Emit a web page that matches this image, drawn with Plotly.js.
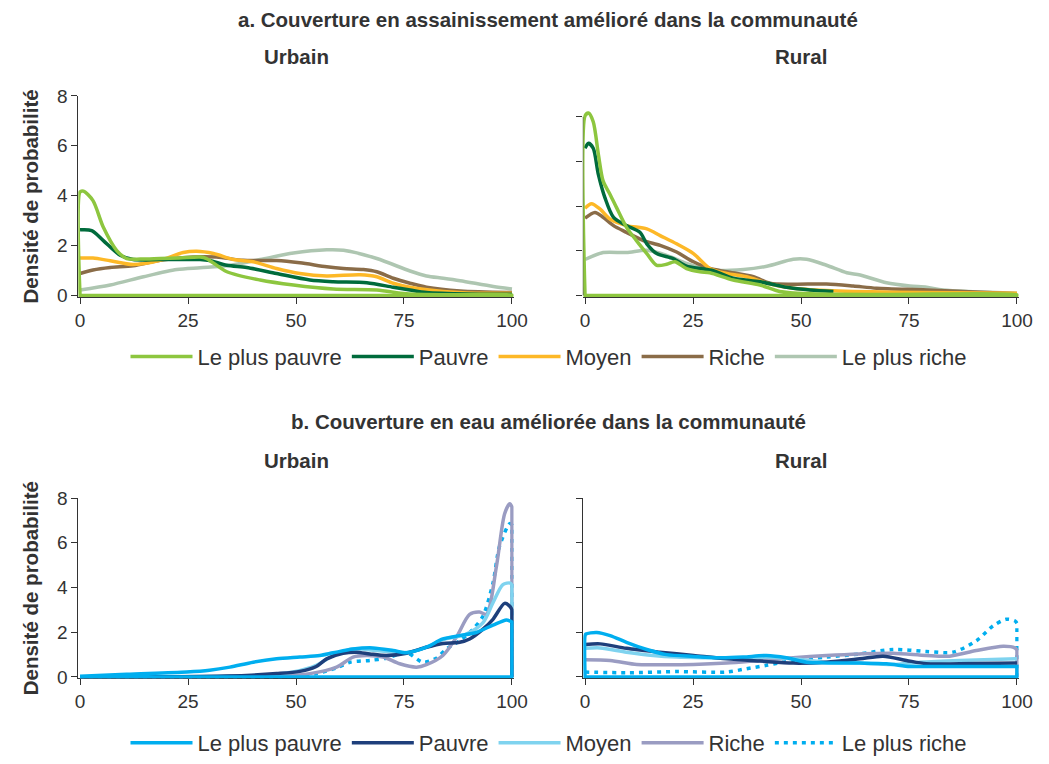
<!DOCTYPE html>
<html>
<head>
<meta charset="utf-8">
<script src="https://cdn.plot.ly/plotly-3.0.1.min.js"></script>
<style>html,body{margin:0;padding:0;background:#fff}#chart{width:1049px;height:764px}</style>
</head>
<body>
<div id="chart"></div>
<script>
// ---------- labels ----------
const groupNames = ["Le plus pauvre", "Pauvre", "Moyen", "Riche", "Le plus riche"];
const panelTitleA = "a. Couverture en assainissement amélioré dans la communauté";
const panelTitleB = "b. Couverture en eau améliorée dans la communauté";
const subUrban = "Urbain";
const subRural = "Rural";
const yTitle = "Densité de probabilité";
const xTickVals = [0, 25, 50, 75, 100];
const yTickVals = [0, 2, 4, 6, 8];

// ---------- a. sanitation, urban ----------
const sanUrb_pp_x = [0,0,0,0.8,3,5.4,8.5,10.8,14,18.5,23,27.8,29.3,34,41.7,49.4,58.6,68.7,75.6,85,100,100,100,0];
const sanUrb_pp_y = [0,0,4.15,4.18,3.8,2.73,1.8,1.48,1.46,1.48,1.5,1.54,1.48,0.95,0.62,0.42,0.26,0.22,0.07,0.03,0.02,0,0,0];
const sanUrb_p_x  = [0,2.7,5.4,9.3,12.3,18.5,27.8,30,34,38.6,45.5,53.2,58.6,66.4,72.5,76.4,80.2,90,100];
const sanUrb_p_y  = [2.63,2.6,2.2,1.61,1.44,1.44,1.44,1.40,1.21,1.12,0.88,0.62,0.55,0.51,0.33,0.22,0.12,0.06,0.05];
const sanUrb_m_x  = [0,3,7,12.3,18.5,23.9,27,30.9,35.5,40.1,45.5,50.9,57.1,64.8,68.7,72.5,76.4,84.1,91.8,100];
const sanUrb_m_y  = [1.5,1.5,1.39,1.24,1.41,1.72,1.77,1.68,1.44,1.35,1.08,0.88,0.78,0.83,0.75,0.49,0.33,0.16,0.09,0.09];
const sanUrb_r_x  = [0,3,7,12.3,18.5,26.2,31.6,37.8,45.5,50.9,57.1,61,65.6,68.7,72.5,76.4,80.2,88,100];
const sanUrb_r_y  = [0.88,1.02,1.12,1.19,1.41,1.54,1.54,1.41,1.4,1.31,1.15,1.08,1.04,0.95,0.69,0.49,0.33,0.18,0.12];
const sanUrb_lr_x = [0,7,14.7,22.4,27.8,34,41.7,49.4,57.1,61,68.7,76.4,80.2,84.1,88,95.7,100];
const sanUrb_lr_y = [0.22,0.42,0.75,1.04,1.11,1.19,1.44,1.7,1.83,1.81,1.48,0.98,0.78,0.69,0.59,0.36,0.26];

// ---------- a. sanitation, rural ----------
const sanRur_pp_x = [0,0,0,0.8,1.9,3.1,4.2,5.8,7.3,9.6,11.9,14.3,16.6,18.9,20.8,23.5,26.6,28.9,34.3,40.5,45.1,52.1,70,100,100,100,0];
const sanRur_pp_y = [0,0,7.2,7.31,6.96,5.64,4.58,4.05,3.52,2.73,2.2,1.68,1.21,1.25,1.35,1.08,0.95,0.91,0.62,0.42,0.16,0.07,0.04,0.03,0,0,0];
const sanRur_p_x  = [0,0.8,1.9,3.1,4.6,6.6,9.6,12.7,14.3,16.6,20.4,23.5,26.6,29.7,34.3,40.5,46.7,52.1,57.5];
const sanRur_p_y  = [5.9,6.1,5.9,4.84,3.92,3.13,2.8,2.53,2.07,1.68,1.48,1.17,1.08,0.99,0.69,0.55,0.33,0.22,0.16];
const sanRur_m_x  = [0,1.5,3.5,5.8,9.6,14.3,17.4,21.2,25.1,28.9,32.8,37.4,42.1,48.2,55.9,71.4,100];
const sanRur_m_y  = [3.5,3.68,3.46,3.06,2.8,2.67,2.4,2.07,1.68,1.08,0.88,0.75,0.49,0.29,0.2,0.13,0.09];
const sanRur_r_x  = [0,2.3,4.2,6.6,9.6,13.5,17.4,21.2,25.1,28.9,32.8,39,42.8,48.2,55.9,62.1,67.5,79.1,100];
const sanRur_r_y  = [3.1,3.33,3.13,2.8,2.53,2.2,2.01,1.74,1.35,1.08,0.95,0.75,0.49,0.45,0.46,0.38,0.29,0.22,0.07];
const sanRur_lr_x = [0,4.2,9.6,14.3,18.9,23.5,28.9,36.7,42.1,48.2,51.3,55.9,60.6,63.7,69.8,75.2,79.1,82.9,100];
const sanRur_lr_y = [1.44,1.72,1.72,1.81,1.61,1.28,1.02,1.04,1.17,1.45,1.45,1.21,0.91,0.82,0.51,0.38,0.33,0.22,0.09];

// ---------- b. water, urban ----------
const watUrb_pp_x = [0,10.8,24.7,30,34.7,40.1,45.5,50.9,55.5,58.6,63.2,67.8,72.5,75.6,80.2,84,87.9,91.7,95.6,98.7,99.6,100,100,100,100,0];
const watUrb_pp_y = [0.03,0.12,0.22,0.3,0.44,0.66,0.81,0.89,0.96,1.08,1.25,1.3,1.18,1.08,1.33,1.7,1.85,1.99,2.32,2.55,2.5,2.45,2.45,0,0,0];
const watUrb_p_x  = [0,33.9,45.5,50.9,54.7,57.1,60.9,64,67.1,70.9,75.6,80.2,84,87.9,90.2,93.3,95.6,98.3,99.6,100,100,100,100];
const watUrb_p_y  = [0,0.04,0.15,0.25,0.47,0.81,1.06,1.11,1.03,0.96,1.06,1.33,1.5,1.55,1.7,2.14,2.58,3.29,3.14,3.0,3.0,0,0];
const watUrb_m_x  = [0,41.6,49.3,54.7,58.6,63.2,68.6,75.6,80.2,84,89.4,93.3,95.6,97.9,99.6,100,100,100,100];
const watUrb_m_y  = [0,0.07,0.22,0.52,0.96,1.25,1.18,1.1,1.33,1.67,1.92,2.43,3.32,4.13,4.2,4.1,4.1,0,0];
const watUrb_r_x  = [0,45.5,53.2,59.4,63.2,66.3,70.2,74,77.9,80.2,84,87.1,90.2,92.5,94.1,96.4,98.3,99.5,100,100,100,100];
const watUrb_r_y  = [0,0.04,0.15,0.44,0.89,0.96,0.89,0.59,0.44,0.55,0.96,1.77,2.8,2.9,2.8,4.94,7.3,7.75,7.6,7.6,0,0];
const watUrb_lr_x = [0,49.3,54.7,59.4,62.5,67.1,70.9,75.6,79.4,82.5,84.8,87.9,91,93.3,95.6,97.1,99.5,100,100,100,100];
const watUrb_lr_y = [0,0.03,0.15,0.4,0.66,0.74,0.84,1.08,0.66,0.84,1.25,1.62,2.14,2.73,4.2,5.83,6.86,6.8,6.8,0,0];

// ---------- b. water, rural ----------
const watRur_pp_x = [0,0,0,0.2,2.7,5.8,9.6,14.3,18.9,25.1,31.2,36.6,42,46.6,51.3,55.9,63.6,69.8,75.2,79,100,100,100,100,0];
const watRur_pp_y = [0,0,1.85,1.92,1.99,1.85,1.55,1.23,1.0,0.92,0.86,0.89,0.96,0.86,0.66,0.63,0.62,0.59,0.47,0.47,0.47,0.47,0,0,0];
const watRur_p_x  = [0,3.5,9.6,17.3,25.1,32.8,40.5,48.2,55.9,63.6,69,74.4,79,86.7,100];
const watRur_p_y  = [1.45,1.48,1.28,1.11,0.96,0.81,0.71,0.62,0.66,0.81,0.93,0.74,0.59,0.59,0.62];
const watRur_m_x  = [0,3.5,9.6,15.8,21.2,28.9,36.6,42,48.2,55.9,63.6,71.3,77.5,86.7,100];
const watRur_m_y  = [1.28,1.3,1.11,0.96,0.89,0.86,0.84,0.89,0.81,0.66,0.62,0.56,0.66,0.74,0.81];
const watRur_r_x  = [0,5.8,12,17.3,25.1,32.8,40.5,48.2,55.9,63.6,71.3,79,84.4,90.6,96.8,99.5,100,100,100,100];
const watRur_r_y  = [0.77,0.74,0.56,0.55,0.56,0.62,0.74,0.86,0.96,1.03,1.06,0.96,0.93,1.18,1.37,1.3,1.2,1.2,0,0];
const watRur_lr_x = [0,9.6,21.2,32.8,37.4,42,48.2,55.9,63.6,71.3,79,85.2,90.6,94.5,97.5,99.5,100,100,100,100];
const watRur_lr_y = [0.22,0.19,0.24,0.22,0.37,0.52,0.74,0.89,1.03,1.23,1.14,1.11,1.62,2.29,2.58,2.51,2.4,2.4,0,0];

// ---------- styles ----------
const greenColors = ["#8DC63F", "#006B3C", "#FDB827", "#8A6C48", "#AEC6B1"];
const blueColors  = ["#00AEEF", "#1E3F7B", "#7FD3EF", "#9A9CC2", "#00AEEF"];
const blueDash    = ["solid", "solid", "solid", "solid", "4px,5px"];
const FONT = "Liberation Sans, Arial, Helvetica, sans-serif";
const TXT = "#333333";

const panels = [
  {xa: "x",  ya: "y",  colors: greenColors, dash: null, legend: "legend",  show: true,
   xs: [sanUrb_pp_x, sanUrb_p_x, sanUrb_m_x, sanUrb_r_x, sanUrb_lr_x],
   ys: [sanUrb_pp_y, sanUrb_p_y, sanUrb_m_y, sanUrb_r_y, sanUrb_lr_y]},
  {xa: "x2", ya: "y2", colors: greenColors, dash: null, legend: "legend",  show: false,
   xs: [sanRur_pp_x, sanRur_p_x, sanRur_m_x, sanRur_r_x, sanRur_lr_x],
   ys: [sanRur_pp_y, sanRur_p_y, sanRur_m_y, sanRur_r_y, sanRur_lr_y]},
  {xa: "x3", ya: "y3", colors: blueColors, dash: blueDash, legend: "legend2", show: true,
   xs: [watUrb_pp_x, watUrb_p_x, watUrb_m_x, watUrb_r_x, watUrb_lr_x],
   ys: [watUrb_pp_y, watUrb_p_y, watUrb_m_y, watUrb_r_y, watUrb_lr_y]},
  {xa: "x4", ya: "y4", colors: blueColors, dash: blueDash, legend: "legend2", show: false,
   xs: [watRur_pp_x, watRur_p_x, watRur_m_x, watRur_r_x, watRur_lr_x],
   ys: [watRur_pp_y, watRur_p_y, watRur_m_y, watRur_r_y, watRur_lr_y]}
];

const traces = [];
panels.forEach(p => {
  for (let i = groupNames.length - 1; i >= 0; i--) {
    traces.push({
      type: "scatter", mode: "lines",
      x: p.xs[i], y: p.ys[i],
      xaxis: p.xa, yaxis: p.ya,
      name: groupNames[i],
      legend: p.legend, legendrank: i + 1,
      showlegend: p.show,
      hoverinfo: "skip",
      line: {color: p.colors[i], width: 3.5, shape: "spline", smoothing: 0.8,
             dash: p.dash ? p.dash[i] : "solid"}
    });
  }
});

const W = 1049, H = 764;
const px = v => v / W, py = v => 1 - v / H;

function xAxis(domain, anchor) {
  return {domain: domain, anchor: anchor, range: [-0.4, 100.4], tickvals: xTickVals,
    ticks: "outside", ticklen: 6, tickwidth: 1, tickcolor: TXT,
    showline: true, linecolor: TXT, linewidth: 1, showgrid: false, zeroline: false,
    layer: "below traces",
    tickfont: {family: FONT, size: 19, color: TXT}, automargin: false, fixedrange: true};
}
function yAxis(domain, anchor, labels, tv, line) {
  return {domain: domain, anchor: anchor, range: [-0.06, 8], tickvals: tv,
    ticks: "outside", ticklen: 6, tickwidth: 1, tickcolor: TXT,
    showline: line, linecolor: TXT, linewidth: 1, showgrid: false, zeroline: false,
    layer: "below traces",
    showticklabels: labels,
    tickfont: {family: FONT, size: 19, color: TXT}, automargin: false, fixedrange: true,
    title: labels ? {text: yTitle, standoff: 12, font: {family: FONT, size: 20.5, color: TXT, weight: "bold"}} : undefined};
}

const xL = [px(78.3), px(513.7)], xR = [px(583.3), px(1018.7)];
const yTop = [py(300.5), py(97)], yBot = [py(686.4), py(504)];
const rightTopTicks = [0, 1.79, 3.58, 5.37, 7.16];

function ann(text, x, y, size) {
  return {text: text, x: x, y: y, xref: "paper", yref: "paper", xanchor: "center", yanchor: "middle",
    showarrow: false, font: {family: FONT, size: size, color: TXT, weight: "bold"}};
}

const legendFont = {family: FONT, size: 22, color: TXT};
const layout = {
  width: W, height: H,
  margin: {l: 0, r: 0, t: 0, b: 0},
  paper_bgcolor: "#ffffff", plot_bgcolor: "#ffffff",
  font: {family: FONT, color: TXT},
  showlegend: true,
  xaxis:  xAxis(xL, "y"),
  yaxis:  yAxis(yTop, "x", true, yTickVals, true),
  xaxis2: xAxis(xR, "y2"),
  yaxis2: yAxis(yTop, "x2", false, rightTopTicks, false),
  xaxis3: xAxis(xL, "y3"),
  yaxis3: yAxis(yBot, "x3", true, yTickVals, true),
  xaxis4: xAxis(xR, "y4"),
  yaxis4: yAxis(yBot, "x4", false, yTickVals, true),
  legend:  {orientation: "h", x: px(549), xanchor: "center", y: py(361), yanchor: "middle",
            font: legendFont, traceorder: "normal", bgcolor: "rgba(0,0,0,0)", itemwidth: 62},
  legend2: {orientation: "h", x: px(549), xanchor: "center", y: py(752), yanchor: "middle",
            font: legendFont, traceorder: "normal", bgcolor: "rgba(0,0,0,0)", itemwidth: 62},
  shapes: [{type: "line", xref: "x2 domain", x0: 0, x1: 0, yref: "y2", y0: 0, y1: rightTopTicks[4],
            line: {color: TXT, width: 1}, layer: "below"}],
  annotations: [
    ann(panelTitleA, px(548), py(20), 20.5),
    ann(subUrban, px(296), py(57), 20.5),
    ann(subRural, px(801), py(57), 20.5),
    ann(panelTitleB, px(548), py(427), 20.5),
    ann(subUrban, px(296), py(466), 20.5),
    ann(subRural, px(801), py(466), 20.5)
  ]
};

Plotly.newPlot("chart", traces, layout, {displayModeBar: false, staticPlot: true});
</script>
</body>
</html>
